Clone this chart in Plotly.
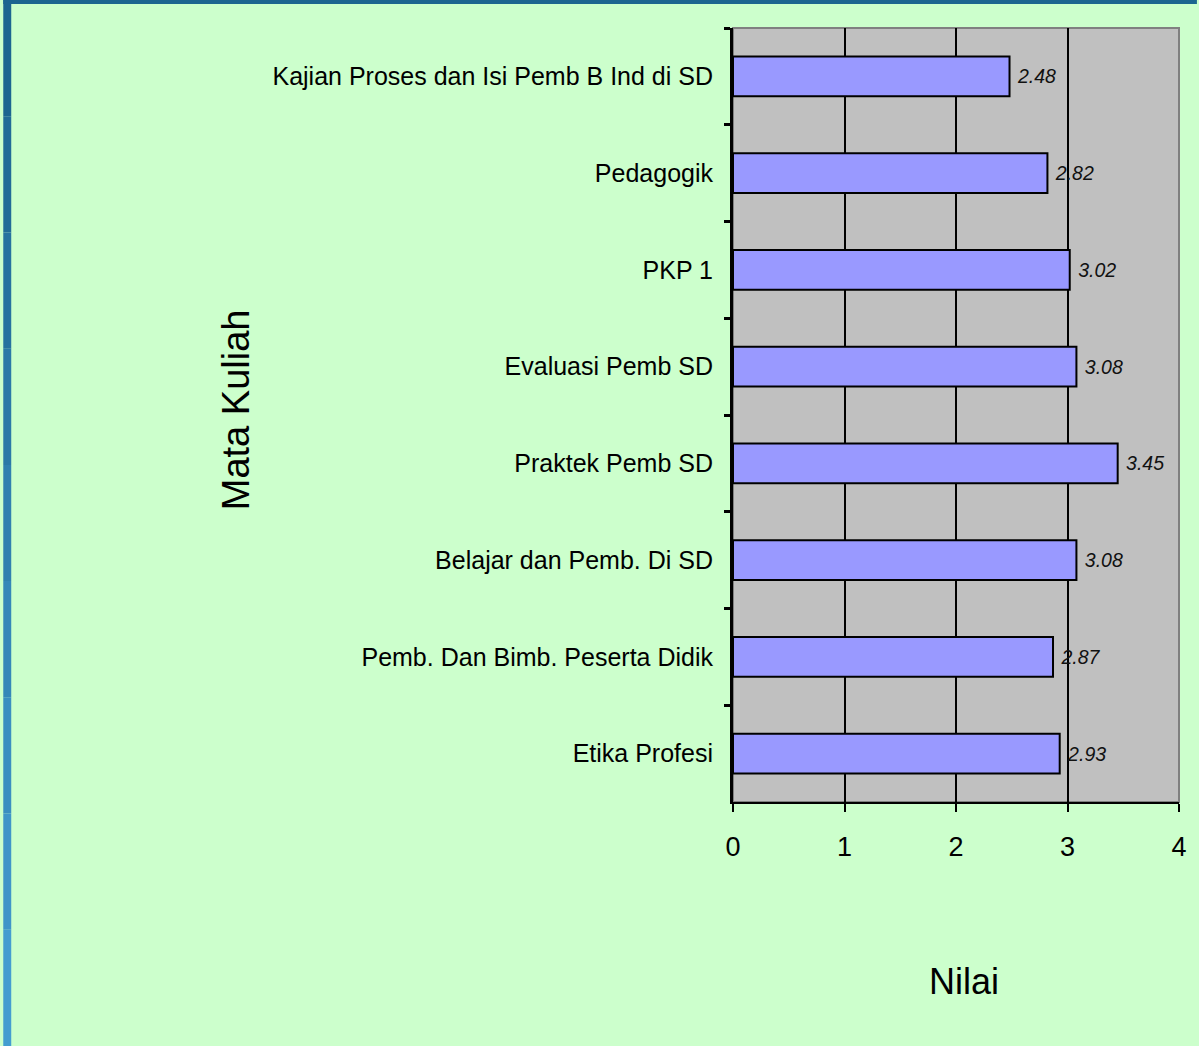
import plotly.graph_objects as go

categories = [
    "Kajian Proses dan Isi Pemb B Ind di SD",
    "Pedagogik",
    "PKP 1",
    "Evaluasi Pemb SD",
    "Praktek Pemb SD",
    "Belajar dan Pemb. Di SD",
    "Pemb. Dan Bimb. Peserta Didik",
    "Etika Profesi",
]
values = [2.48, 2.82, 3.02, 3.08, 3.45, 3.08, 2.87, 2.93]
value_labels = ["2.48", "2.82", "3.02", "3.08", "3.45", "3.08", "2.87", "2.93"]
x_ticks = [0, 1, 2, 3, 4]

W, H = 1199, 1046
L, R, T, B = 733, 18, 28, 244

fig = go.Figure()
fig.add_trace(go.Bar(
    y=categories, x=values, orientation="h",
    marker=dict(color="#9999ff", line=dict(color="#000000", width=2)),
    width=0.41,
    text=value_labels, texttemplate=" %{text}", textposition="outside",
    textfont=dict(family="Liberation Sans, Arial", size=19.5, color="#111111", style="italic"),
    cliponaxis=False,
))

fig.update_layout(
    width=W, height=H,
    paper_bgcolor="#ccffcc", plot_bgcolor="#c0c0c0",
    margin=dict(l=L, r=R, t=T, b=B),
    showlegend=False,
    font=dict(family="Liberation Sans, Arial", color="#000000"),
    xaxis=dict(
        range=[0, 4], tickvals=x_ticks, ticktext=[str(v) for v in x_ticks],
        showgrid=True, gridcolor="#000000", gridwidth=2,
        showline=True, linecolor="#000000", linewidth=2,
        ticks="outside", ticklen=8, tickwidth=2, tickcolor="#000000",
        tickfont=dict(size=27), zeroline=False, ticklabelstandoff=12,
    ),
    yaxis=dict(
        categoryorder="array", categoryarray=categories, autorange="reversed",
        showline=True, linecolor="#000000", linewidth=3,
        ticks="outside", ticklen=6, tickwidth=3, tickcolor="#000000",
        tickson="boundaries", ticklabelstandoff=12,
        tickfont=dict(size=25), showgrid=False,
    ),
)

pw, ph = W - L - R, H - T - B

def px2paper_x(px):
    return (px - L) / pw

def px2paper_y(py):
    return (H - py - B) / ph

fig.add_annotation(text="Mata Kuliah", x=px2paper_x(234), y=px2paper_y(410),
                   xref="paper", yref="paper", showarrow=False, textangle=-90,
                   xanchor="center", yanchor="middle", font=dict(size=38))
fig.add_annotation(text="Nilai", x=px2paper_x(965), y=px2paper_y(981),
                   xref="paper", yref="paper", showarrow=False,
                   xanchor="center", yanchor="middle", font=dict(size=36))

# plot area border (gray)
fig.add_shape(type="rect", xref="x domain", yref="y domain", x0=0, x1=1, y0=0, y1=1,
              line=dict(color="#808080", width=2), layer="below")

# slide frame: top bar and left gradient bar
fig.add_shape(type="rect", xref="paper", yref="paper",
              x0=px2paper_x(0), x1=px2paper_x(W), y0=px2paper_y(4), y1=px2paper_y(0),
              fillcolor="#1c6590", line=dict(width=0), layer="below")
grad = ["#1c6590", "#216b97", "#26729f", "#2b79a7", "#3080af", "#3587b8", "#3a8ec0", "#3f95c8", "#449dd0"]
n = len(grad)
for i, c in enumerate(grad):
    fig.add_shape(type="rect", xref="paper", yref="paper",
                  x0=px2paper_x(0), x1=px2paper_x(8),
                  y0=px2paper_y(H * (i + 1) / n), y1=px2paper_y(H * i / n),
                  fillcolor=c, line=dict(width=0), layer="below")

fig.write_html("out.html", config={"displayModeBar": False},
               post_script="document.body.style.margin='0';document.body.style.overflow='hidden';")
